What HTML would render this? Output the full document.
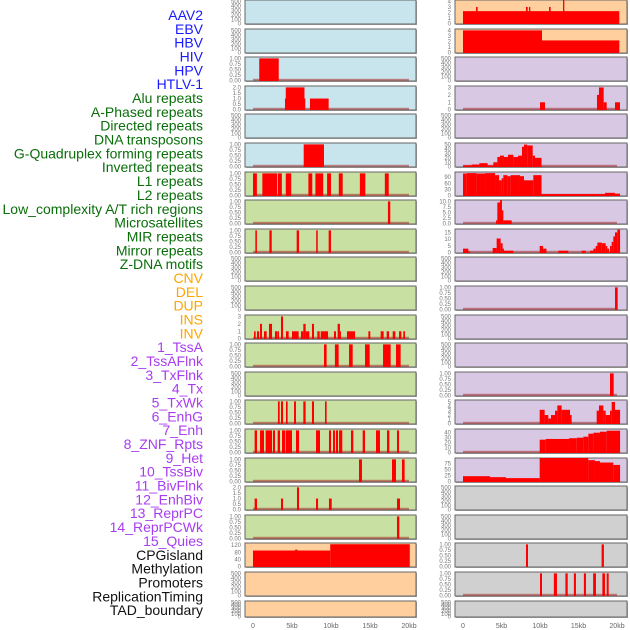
<!DOCTYPE html>
<html><head><meta charset="utf-8"><style>
body{margin:0;background:#fff}
svg{display:block;font-family:"Liberation Sans",sans-serif}
</style></head><body>
<svg id="c" width="630" height="630" viewBox="0 0 630 630"></svg>
<script>
const labelNames=["AAV2","EBV","HBV","HIV","HPV","HTLV-1","Alu repeats","A-Phased repeats","Directed repeats","DNA transposons","G-Quadruplex forming repeats","Inverted repeats","L1 repeats","L2 repeats","Low_complexity A/T rich regions","Microsatellites","MIR repeats","Mirror repeats","Z-DNA motifs","CNV","DEL","DUP","INS","INV","1_TssA","2_TssAFlnk","3_TxFlnk","4_Tx","5_TxWk","6_EnhG","7_Enh","8_ZNF_Rpts","9_Het","10_TssBiv","11_BivFlnk","12_EnhBiv","13_ReprPC","14_ReprPCWk","15_Quies","CPGisland","Methylation","Promoters","ReplicationTiming","TAD_boundary"];
const labelGroups=[6,13,5,15,5];
const groupColors=["#1a1aff","#0a6e0a","#ffa500","#a83cf0","#111111"];
const xTicks=[0,5,10,15,20];
const xTickLabels=["0","5kb","10kb","15kb","20kb"];
const T500=[0,100,200,300,400,500], T1=[0,0.25,0.5,0.75,1], T2=[0,0.5,1,1.5,2];
// left column: [start kb, end kb, value]
const leftBg=["#c8e4ec","#c8e4ec","#c8e4ec","#c8e4ec","#c8e4ec","#c8e4ec","#c8e0a2","#c8e0a2","#c8e0a2","#c8e0a2","#c8e0a2","#c8e0a2","#c8e0a2","#c8e0a2","#c8e0a2","#c8e0a2","#c8e0a2","#c8e0a2","#c8e0a2","#ffd09e","#ffd09e","#ffd09e"];
const rightBg=["#ffd09e","#ffd09e","#d8c8e4","#d8c8e4","#d8c8e4","#d8c8e4","#d8c8e4","#d8c8e4","#d8c8e4","#d8c8e4","#d8c8e4","#d8c8e4","#d8c8e4","#d8c8e4","#d8c8e4","#d8c8e4","#d8c8e4","#d0d0d0","#d0d0d0","#d0d0d0","#d0d0d0","#d0d0d0"];
const L2=[[0.8,3.3,1]];
const L3=[[4.1,6.7,1],[4.2,6.6,2],[7.3,9.7,1]];
const L5=[[6.5,9.1,1]];
const L6=[[0,0.5,1],[1.2,3.1,1],[3.2,3.7,1],[4.2,4.9,1],[7.1,7.6,1],[8,9,1],[9.5,10,1],[11,11.5,1],[13.7,14.4,1],[16.9,17.4,1]];
const L7=[[17.3,17.6,1]];
const L8=[[0.3,0.5,1],[2.1,2.4,1],[5.6,5.9,1],[8.1,8.3,1],[9.7,10,1]];
const L11=[[0.13,0.34,1],[0.51,0.77,1],[0.9,1.15,2],[1.41,1.75,1],[2.05,2.44,2],[2.82,3.08,1],[3.12,3.33,1],[3.59,3.85,3],[4.23,4.57,1],[5,5.85,1],[6.15,6.45,1],[6.45,6.75,2],[6.75,7.22,1],[7.56,7.82,2],[8.25,8.55,1],[8.68,9.62,1],[10.38,10.64,1],[10.85,11.15,2],[11.15,11.24,1],[12.05,13.08,1],[14.79,15.04,1],[16.37,16.75,1],[17.14,17.44,1],[17.91,18.25,1],[18.72,19.02,1],[19.27,19.49,1]];
const L12=[[9.1,9.44,1],[10.5,10.98,1],[12.31,12.78,1],[14.36,14.96,1],[16.67,17.65,1],[18.33,18.93,1]];
const L14=[[3.2,3.42,1],[3.59,3.85,1],[4.23,4.44,1],[5.26,5.51,1],[6.45,6.75,1],[7.56,7.82,1],[9.23,9.44,1]];
const L15=[[0.21,0.51,1],[0.9,1.41,1],[1.62,2.44,1],[2.56,2.82,1],[3.16,3.46,1],[3.72,4.15,1],[4.23,5,1],[5.51,5.9,1],[8.08,8.59,1],[9.74,10,1],[10.26,10.51,1],[10.64,10.9,1],[11.03,11.45,1],[12.56,12.86,1],[14.06,14.36,1],[15.77,16.28,1],[17.18,17.48,1],[18.46,18.72,1]];
const L16=[[13.59,13.97,1],[17.82,18.33,1],[19.1,19.44,1]];
const L17=[[0.21,0.51,1],[3.59,3.85,1],[5.64,5.9,2],[8.08,8.34,1],[9.74,10.09,1],[18.46,18.85,1]];
const L18=[[18.46,18.76,1]];
const L19=[[0,9.9,90],[5.4,5.7,95],[9.9,20.1,125]];
const R0=[[0,20.3,2.25],[1.69,1.9,3],[8.18,8.4,3],[8.57,8.74,3],[11.17,11.38,3],[12.99,13.16,4.3]];
const R1=[[0,10.26,4],[10.26,20.3,2.2]];
const R3=[[10,10.65,1],[17.4,17.66,2],[17.66,18.27,3],[18.27,18.66,1],[19.74,20.39,1]];
const R5=[[0,1.13,3],[1.13,2.12,5],[2.12,3.2,8],[3.2,3.94,3],[3.94,4.46,10],[4.46,4.8,22],[4.8,5.32,25],[5.32,5.84,22],[5.84,6.54,27],[6.54,7.14,22],[7.14,7.66,25],[7.66,7.92,45],[7.92,8.35,50],[8.35,9.05,48],[9.05,9.35,25],[9.35,10.2,20]];
const R6=[[0,0.48,108],[0.48,1.77,110],[1.77,2.86,108],[2.86,4.16,110],[4.16,4.68,100],[4.68,5.02,75],[5.02,5.24,85],[5.24,5.76,100],[5.76,6.19,95],[6.19,7.4,100],[7.4,7.92,95],[7.92,9.13,75],[9.13,10.2,100],[10.2,18.44,8],[18.44,19.74,14],[19.74,20.4,10]];
const R7=[[4.29,4.46,1.5],[4.46,4.8,9.5],[4.8,5.06,10.5],[5.06,5.24,6],[5.24,6.32,1.5]];
const R8=[[0,0.69,3],[0.69,0.91,1],[3.85,4.37,3.5],[4.37,4.89,10.5],[4.89,5.15,7],[5.15,5.32,3],[5.32,6.54,1.5],[9.96,10.4,5],[10.4,10.84,3],[12.38,13.68,1.5],[15.41,15.93,1.5],[16.5,16.93,1.5],[16.93,17.23,3],[17.23,17.45,5],[17.45,18.01,7.5],[18.01,18.53,7],[18.53,18.74,5],[18.74,18.96,3],[19.09,19.31,5],[19.31,19.52,8],[19.52,19.74,12],[19.74,20.04,15],[20.04,20.4,17]];
const R10=[[19.74,20.09,1]];
const R13=[[19.09,19.57,1]];
const R14=[[9.96,10.6,3.2],[10.6,11.08,2],[11.08,11.43,1.2],[11.43,11.95,2],[11.95,12.25,3],[12.25,12.81,4.2],[12.81,13.9,3.2],[13.9,14.11,2],[17.36,17.66,3],[17.66,18.23,4.2],[18.23,18.53,3],[18.53,19.09,2],[19.09,19.31,3],[19.31,19.74,5],[19.74,20.4,3.2]];
const R15=[[9.96,10.74,26],[10.74,13.77,27.5],[13.77,14.77,29],[14.77,15.63,30],[15.63,16.28,32],[16.28,16.93,38],[16.93,17.79,40],[17.79,18.66,42],[18.66,20.4,44]];
const R16=[[0,3.5,23],[3.5,5.58,19],[5.58,9.96,15],[9.96,16.28,100],[16.28,17.14,90],[17.14,17.79,86],[17.79,19.52,80],[19.52,20.4,70]];
const R19=[[8.18,8.44,1],[18,18.3,1]];
const R20=[[10,10.26,1],[11.8,12.2,1],[13.3,13.6,1],[14.4,14.67,1],[15.7,15.97,1],[16.9,17.27,1],[18.1,18.44,1],[18.66,18.92,1]];
const leftData={2:L2,3:L3,5:L5,6:L6,7:L7,8:L8,11:L11,12:L12,14:L14,15:L15,16:L16,17:L17,18:L18,19:L19};
const rightData={0:R0,1:R1,3:R3,5:R5,6:R6,7:R7,8:R8,10:R10,13:R13,14:R14,15:R15,16:R16,19:R19,20:R20};
const leftTicks={2:T1,3:T2,5:T1,6:T1,7:T1,8:T1,11:[0,1,2,3],12:T1,14:T1,15:T1,16:T1,17:T2,18:T1,19:[0,40,80,120]};
const leftMax={2:1.03,3:2.06,5:1.03,6:1.03,7:1.03,8:1.03,11:3.1,12:1.03,14:1.03,15:1.03,16:1.03,17:2.06,18:1.03,19:128};
const rightTicks={0:[0,1,2,3,4],1:[0,1,2,3,4],3:[0,1,2,3],5:[0,10,20,30,40,50],6:[0,30,60,90],7:[0,2.5,5,7.5,10],8:[0,5,10,15],10:T1,13:T1,14:[0,1,2,3,4,5],15:[0,10,20,30,40],16:[0,25,50,75],19:T1,20:T1};
const rightMax={0:4.12,1:4.12,3:3.1,5:52,6:112,7:10.3,8:17,10:1.03,13:1.03,14:5.3,15:46,16:96,19:1.03,20:1.03};
const tickFmt={2:2,3:1,5:2,6:2,7:2,8:2,12:2,14:2,15:2,16:2,17:1,18:2};
const rightFmt={7:1,10:2,13:2,19:2,20:2};

const NS="http://www.w3.org/2000/svg";
const svg=document.getElementById('c');
function mk(tag,attrs,parent){const e=document.createElementNS(NS,tag);for(const k in attrs)e.setAttribute(k,attrs[k]);(parent||svg).appendChild(e);return e;}

// labels
let li=0;
labelGroups.forEach((n,g)=>{for(let j=0;j<n;j++){const t=mk('text',{x:203,y:20+li*13.84,'text-anchor':'end','font-size':14,fill:groupColors[g]});


t.textContent=labelNames[li];li++;}});

const cols=[{x0:245,x1:416,z:253,s:7.8,tx:241,bg:leftBg,data:leftData,ticks:leftTicks,max:leftMax,fmt:tickFmt,name:'left'},
            {x0:455,x1:627,z:463,s:7.7,tx:451,bg:rightBg,data:rightData,ticks:rightTicks,max:rightMax,fmt:rightFmt,name:'right'}];
for(let r=0;r<22;r++){
  const top=Math.round(r*28.6), h=(r==21?16:24), bot=top+h;
  cols.forEach(c=>{
    const g=mk('g',{});
    
    
    mk('rect',{x:c.x0+1,y:top+1,width:c.x1-c.x0,height:h,fill:'#aaa'},g);
    mk('rect',{x:c.x0,y:top,width:c.x1-c.x0,height:h,fill:c.bg[r],stroke:'#666','stroke-width':1},g);
    const ticks=c.ticks[r]||T500, ymax=c.max[r]||520, fd=c.fmt[r];
    const yS=v=>bot-0.3-(v/ymax)*(h-1);
    const xS=k=>c.z+k*c.s;
    ticks.forEach(v=>{const t=mk('text',{x:c.tx,y:yS(v)+2,'text-anchor':'end','font-size':6,fill:'#777'},g);
      
      
      t.textContent=fd!==undefined?v.toFixed(fd):String(v);});
    const d=c.data[r];
    if(d){
      if(r!==19) mk('rect',{x:xS(0),y:bot-2.2,width:xS(20)-xS(0),height:2,fill:'rgba(170,40,40,0.55)'},g);
      d.forEach(b=>{const y=Math.max(top,yS(b[2]));
        const rc=mk('rect',{x:xS(b[0]),y:y,width:Math.max(1,xS(b[1])-xS(b[0])),height:bot-y,fill:'#ff0000'},g);
        
        });
    }
  });
}
cols.forEach(c=>{xTicks.forEach((k,i)=>{const t=mk('text',{x:c.z+k*c.s,y:628,'text-anchor':'middle','font-size':7,fill:'#666'});
  
  
  t.textContent=xTickLabels[i];});});
</script>
</body></html>
